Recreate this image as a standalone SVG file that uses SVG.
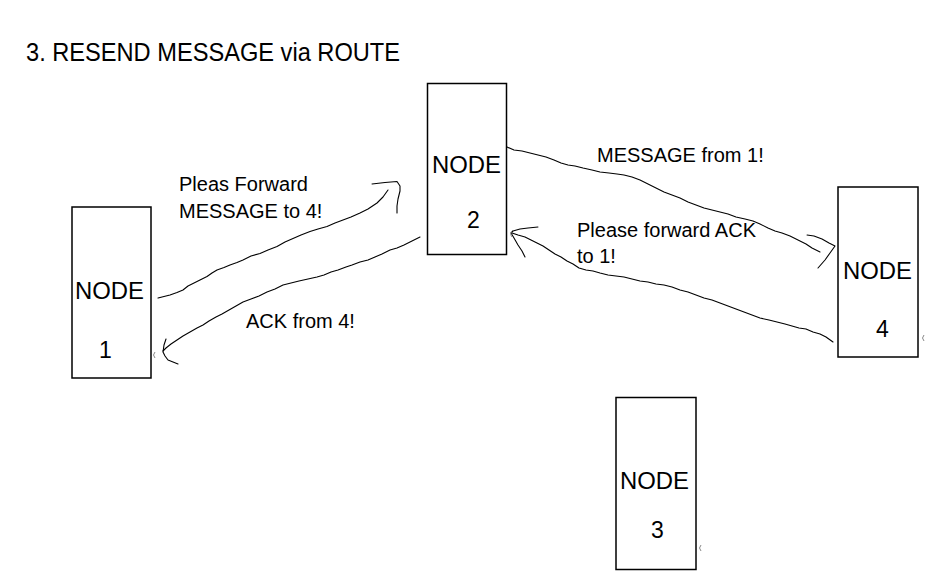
<svg xmlns="http://www.w3.org/2000/svg" width="936" height="580" viewBox="0 0 936 580">
<style>
.box{fill:#fff;stroke:#000;stroke-width:1.5}
.t{font-family:"Liberation Sans",Arial,sans-serif;fill:#000}
.nd{font-size:23px}
.lb{font-size:20px}
.w{fill:none;stroke:#000;stroke-width:1.1;stroke-linecap:round;stroke-linejoin:round}
.m{fill:none;stroke:#888;stroke-width:1}
</style>
<rect width="936" height="580" fill="#fff"/>
<text class="t" x="26" y="61" font-size="26.5" textLength="374" lengthAdjust="spacingAndGlyphs">3. RESEND MESSAGE via ROUTE</text>

<g id="node1">
<rect class="box" x="72" y="207" width="79" height="171"/>
<text class="t nd" x="75" y="299" textLength="69" lengthAdjust="spacingAndGlyphs">NODE</text>
<text class="t nd" x="99" y="358">1</text>
</g>
<g id="node2">
<rect class="box" x="427.5" y="83.5" width="79" height="171"/>
<text class="t nd" x="432" y="173" textLength="69" lengthAdjust="spacingAndGlyphs">NODE</text>
<text class="t nd" x="467" y="228">2</text>
</g>
<g id="node4">
<rect class="box" x="838" y="187" width="80" height="170"/>
<text class="t nd" x="843" y="279" textLength="69" lengthAdjust="spacingAndGlyphs">NODE</text>
<text class="t nd" x="876" y="337">4</text>
</g>
<g id="node3">
<rect class="box" x="616" y="397.5" width="80" height="172"/>
<text class="t nd" x="620" y="489" textLength="69" lengthAdjust="spacingAndGlyphs">NODE</text>
<text class="t nd" x="651" y="538">3</text>
</g>

<g id="labels">
<text class="t lb" x="179" y="191">Pleas Forward</text>
<text class="t lb" x="179" y="218">MESSAGE to 4!</text>
<text class="t lb" x="246" y="328">ACK from 4!</text>
<text class="t lb" x="597" y="162">MESSAGE from 1!</text>
<text class="t lb" x="577" y="237">Please forward ACK</text>
<text class="t lb" x="577" y="263">to 1!</text>
</g>

<g id="connectors">
<path class="w" d="M158,298 L164,296.5 170,295 177,292.5 183,290 188,286 193,283.5 200,280 207,276.5 212,273 217,270 224,267.5 230,265 237,262.5 243,260 251,256 260,253.5 268,250 277,246.5 285,242 293,238.5 301,235 310,231.5 318,229 327,226.5 335,223 343,220 351,217 360,213 368,209 377,203 383,197 388,190"/>
<path class="w" d="M372,184 L385,182.5 397,181.5 400,186 400,191 398,199 397,206 397,213"/>

<path class="w" d="M420,237 L412,241 404,245 397,248 390,250 382,254 375,257 368,260 360,262 352,265 346,267 338,270 331,272 324,275 317,277 308,279 299,281 291,283 283,285 275,289 267,292 259,296 251,299 243,302 236,306 229,310 222,314 216,317 209,321 203,325 197,328 190,332 183,336 177,340 171,344 166,348 163,351"/>
<path class="w" d="M166,339 L164,345 163,352 165,356 168,360 173,362 178,364"/>

<path class="w" d="M507,147 L514,150 522,151 530,153 538,155 546,157 554,160 561,163 568,165 575,166 583,168 592,170 600,172 609,173 617,174 624,175 632,177 640,180 648,184 656,188 664,192 672,195 680,198 688,202 696,205 704,208 712,210 720,212 728,214 736,217 745,219 753,221 760,224 768,228 775,231 782,233 790,236 798,240 806,244 812,248 820,252"/>
<path class="w" d="M807,235 L814,236 822,239 829,243 835,246 830,253 825,260 818,268"/>

<path class="w" d="M833,342 L826,337 820,334 813,332 806,329 799,328 792,326 785,324 777,322 769,320 760,318 752,315 744,312 736,309 728,306 720,303 712,300 704,298 696,295 688,292 680,290 672,287 664,285 656,284 648,282 640,281 632,279 624,277 616,276 608,275 600,273 593,271 586,270 579,268 573,264 567,261 561,257 555,254 549,250 543,246 537,243 531,240 525,237 518,235 512,233"/>
<path class="w" d="M538,227 L528,228 520,229 513,231 511,233 514,238 518,245 522,251 525,257"/>
</g>

<g id="marks">
<path class="m" d="M155,352 Q152,355 155,358"/>
<path class="m" d="M924,335 Q921,338 924,341"/>
<path class="m" d="M701,545 Q698,548 701,551"/>
<path class="m" d="M513,230 Q509,233 512,237"/>
</g>
</svg>
